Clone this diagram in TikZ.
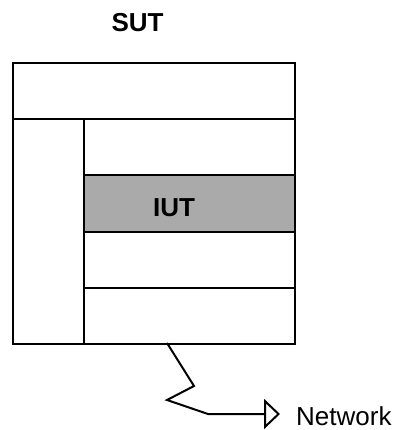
\documentclass[tikz,border=0pt]{standalone}
\usepackage{fontspec}
\setmainfont{Liberation Sans}
\usetikzlibrary{arrows.meta}
\definecolor{iutgray}{RGB}{170,170,170}
\tikzset{
  cell/.style={draw=black, line width=2pt, fill=white, inner sep=0pt, anchor=north west},
  lbl/.style={inner sep=0pt, font=\fontsize{26}{30}\selectfont},
  conn/.style={draw=black, line width=2pt, line join=miter,
    -{Triangle[open, length=16pt, width=30pt, fill=white]}}
}
\begin{document}
\begin{tikzpicture}[x=1pt, y=-1pt]
\useasboundingbox (0,0) rectangle (398,430);
% cells
\node[cell, minimum width=282pt, minimum height=56pt] (top) at (12,62) {};
\node[cell, minimum width=71pt, minimum height=225pt] (left) at (12,118) {};
\node[cell, minimum width=211pt, minimum height=56pt] (r1) at (83,118) {};
\node[cell, fill=iutgray, minimum width=211pt, minimum height=57pt] (iut) at (83,174) {};
\node[cell, minimum width=211pt, minimum height=56pt] (r3) at (83,231) {};
\node[cell, minimum width=211pt, minimum height=56pt] (r4) at (83,287) {};
% labels
\node[lbl, font=\fontsize{26}{30}\selectfont\bfseries, anchor=base] (sut) at (137.5,32) {SUT};
\node[lbl, font=\fontsize{26}{30}\selectfont\bfseries, anchor=base] (iutl) at (174,216) {IUT};
\node[lbl, anchor=base west] (net) at (296,425) {Network};
% connector
\coordinate (s) at (167,343);
\coordinate (k1) at (194,386);
\coordinate (k2) at (167,400);
\coordinate (k3) at (208,414);
\draw[conn, shorten >=16pt] (s) -- (k1) -- (k2) -- (k3) -- (net.west |- k3);
\end{tikzpicture}
\end{document}
